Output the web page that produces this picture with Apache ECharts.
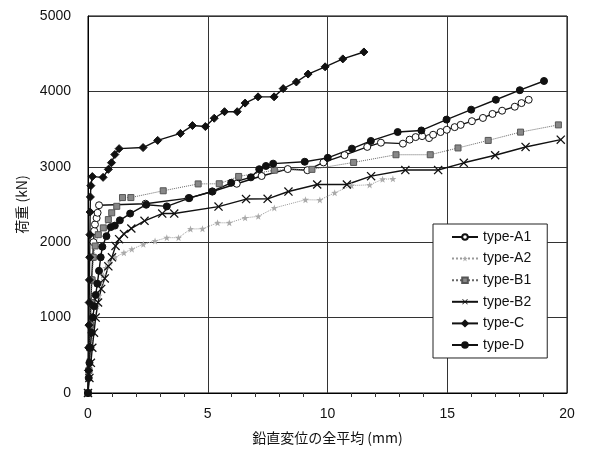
<!DOCTYPE html>
<html><head><meta charset="utf-8">
<script src="https://cdn.jsdelivr.net/npm/echarts@6/dist/echarts.min.js"></script>
<style>html,body{margin:0;padding:0;background:#fff}#c{width:589px;height:450px}</style>
</head><body><div id="c"></div>
<script>
const seriesNames = ['type-A1','type-A2','type-B1','type-B2','type-C','type-D'];
const xTicks = [0,5,10,15,20];
const yTicks = [0,1000,2000,3000,4000,5000];

const typeA1 = [[0,0],[0.03,300],[0.06,600],[0.09,900],[0.12,1200],[0.15,1500],[0.2,1800],[0.23,2000],[0.26,2150],[0.29,2235],[0.36,2320],[0.40,2390],[0.46,2490],[2.4,2510],[4.2,2585],[5.2,2672],[6.21,2775],[7.25,2878],[8.34,2970],[9.16,2955],[9.83,3058],[10.71,3155],[11.66,3264],[12.23,3320],[13.15,3307],[13.43,3360],[13.68,3394],[13.95,3407],[14.24,3381],[14.41,3425],[14.72,3461],[14.98,3491],[15.31,3526],[15.56,3556],[16.03,3605],[16.49,3648],[16.89,3701],[17.29,3744],[17.82,3797],[18.1,3845],[18.4,3889]];
const typeA2 = [[0,0],[0.05,200],[0.1,400],[0.15,600],[0.22,800],[0.3,1000],[0.38,1150],[0.46,1290],[0.53,1450],[0.62,1560],[0.74,1660],[0.9,1730],[1.13,1800],[1.5,1860],[1.83,1907],[2.31,1972],[2.8,2016],[3.29,2060],[3.78,2060],[4.28,2175],[4.78,2178],[5.41,2257],[5.9,2257],[6.56,2323],[7.11,2343],[7.78,2454],[9.08,2563],[9.68,2560],[10.3,2655],[11.0,2752],[11.76,2760],[12.3,2835],[12.73,2840]];
const typeB1 = [[0,0],[0.04,300],[0.07,600],[0.1,900],[0.13,1200],[0.17,1500],[0.22,1800],[0.3,1950],[0.43,2100],[0.64,2190],[0.85,2300],[0.99,2390],[1.2,2476],[1.44,2592],[1.79,2592],[3.14,2682],[4.6,2773],[5.48,2775],[6.29,2872],[7.78,2955],[9.35,2966],[11.09,3058],[12.86,3160],[14.29,3160],[15.45,3250],[16.71,3350],[18.06,3460],[19.64,3556]];
const typeB2 = [[0,0],[0.06,200],[0.12,400],[0.18,600],[0.25,800],[0.32,1000],[0.42,1200],[0.55,1380],[0.7,1520],[0.85,1680],[1.0,1800],[1.15,1950],[1.3,2040],[1.5,2110],[1.81,2182],[2.36,2283],[3.1,2380],[3.6,2380],[5.45,2472],[6.6,2572],[7.5,2575],[8.37,2672],[9.57,2765],[10.81,2765],[11.82,2876],[13.25,2957],[14.62,2957],[15.69,3053],[17.0,3153],[18.27,3263],[19.74,3360]];
const typeC = [[0,0],[0.02,300],[0.03,600],[0.04,900],[0.05,1200],[0.06,1500],[0.07,1800],[0.08,2100],[0.09,2400],[0.1,2600],[0.12,2750],[0.18,2870],[0.63,2860],[0.85,2966],[0.98,3054],[1.12,3163],[1.3,3241],[2.3,3255],[2.91,3350],[3.86,3443],[4.36,3547],[4.9,3534],[5.27,3644],[5.7,3731],[6.23,3731],[6.56,3845],[7.1,3928],[7.77,3928],[8.15,4037],[8.7,4125],[9.19,4230],[9.9,4326],[10.64,4431],[11.52,4523]];
const typeD = [[0,0],[0.03,200],[0.06,400],[0.1,600],[0.15,800],[0.2,1000],[0.26,1150],[0.32,1300],[0.39,1450],[0.46,1620],[0.53,1800],[0.6,1940],[0.77,2080],[0.95,2200],[1.12,2220],[1.33,2290],[1.76,2380],[2.43,2497],[3.29,2475],[4.23,2585],[5.18,2673],[5.98,2788],[6.8,2860],[7.15,2968],[7.43,3011],[7.73,3042],[9.05,3067],[10.01,3119],[11.02,3241],[11.81,3343],[12.93,3461],[13.92,3482],[14.97,3626],[16.0,3758],[17.03,3889],[18.03,4016],[19.04,4138]];

const font = "'Liberation Sans','Noto Sans CJK JP',sans-serif";
const jpFont = "'Noto Sans CJK JP',sans-serif";
const xPath = 'path://M0,1 L1,0 L5,4 L9,0 L10,1 L6,5 L10,9 L9,10 L5,6 L1,10 L0,9 L4,5 Z';
const starPath = 'path://M5,0 L6.2,3.5 L10,3.6 L7,5.9 L8.1,9.6 L5,7.4 L1.9,9.6 L3,5.9 L0,3.6 L3.8,3.5 Z';

function mk(name, data, o) {
  return Object.assign({
    name: name, type: 'line', data: data, symbolSize: 7,
    lineStyle: {color: '#111', width: 1.4},
    itemStyle: {color: '#111', borderColor: '#111', borderWidth: 1},
    animation: false
  }, o);
}

const chart = echarts.init(document.getElementById('c'));
chart.setOption({
  animation: false,
  backgroundColor: '#fff',
  grid: {left: 88, right: 22, top: 16, bottom: 54, show: true, borderColor: '#000', borderWidth: 1},
  legend: {
    data: seriesNames, orient: 'vertical', left: 433, top: 224,
    backgroundColor: '#fff', borderColor: '#222', borderWidth: 1, padding: [6, 16, 6, 18],
    itemGap: 7.6, itemWidth: 26, itemHeight: 7,
    textStyle: {fontFamily: font, fontSize: 14, color: '#111'}
  },
  xAxis: {
    type: 'value', min: 0, max: 20, interval: 5,
    name: '鉛直変位の全平均 (mm)', nameLocation: 'middle', nameGap: 38,
    nameTextStyle: {fontFamily: jpFont, fontSize: 14, color: '#111'},
    axisLine: {lineStyle: {color: '#000'}},
    axisTick: {show: false},
    minorTick: {show: true, splitNumber: 5, inside: true, length: 4, lineStyle: {color: '#333'}},
    axisLabel: {fontFamily: font, fontSize: 14, color: '#111', margin: 14,
      formatter: v => xTicks.includes(v) ? String(v) : ''},
    splitLine: {show: true, lineStyle: {color: '#333', width: 1}}
  },
  yAxis: {
    type: 'value', min: 0, max: 5000, interval: 1000,
    name: '荷重 (kN)', nameLocation: 'middle', nameGap: 58, nameRotate: 90,
    nameTextStyle: {fontFamily: jpFont, fontSize: 14, color: '#111'},
    axisLine: {show: true, lineStyle: {color: '#000'}},
    axisTick: {show: false},
    axisLabel: {fontFamily: font, fontSize: 14, color: '#111', margin: 17,
      formatter: v => yTicks.includes(v) ? String(v) : ''},
    splitLine: {show: true, lineStyle: {color: '#333', width: 1}}
  },
  series: [
    mk('type-A1', typeA1, {symbol: 'circle', symbolSize: 7, itemStyle: {color: '#fff', borderColor: '#111', borderWidth: 1}}),
    mk('type-A2', typeA2, {symbol: starPath, symbolSize: 7, lineStyle: {color: '#999', width: 1, type: 'dotted'}, itemStyle: {color: '#aaa', borderColor: '#aaa', borderWidth: 0}}),
    mk('type-B1', typeB1, {symbol: 'rect', symbolSize: 6, lineStyle: {color: '#666', width: 1, type: 'dotted'}, itemStyle: {color: '#888', borderColor: '#555', borderWidth: 1}}),
    mk('type-B2', typeB2, {symbol: xPath, symbolSize: 9, itemStyle: {color: '#111', borderWidth: 0}}),
    mk('type-C', typeC, {symbol: 'diamond', symbolSize: 8}),
    mk('type-D', typeD, {symbol: 'circle', symbolSize: 7})
  ]
});
</script></body></html>
